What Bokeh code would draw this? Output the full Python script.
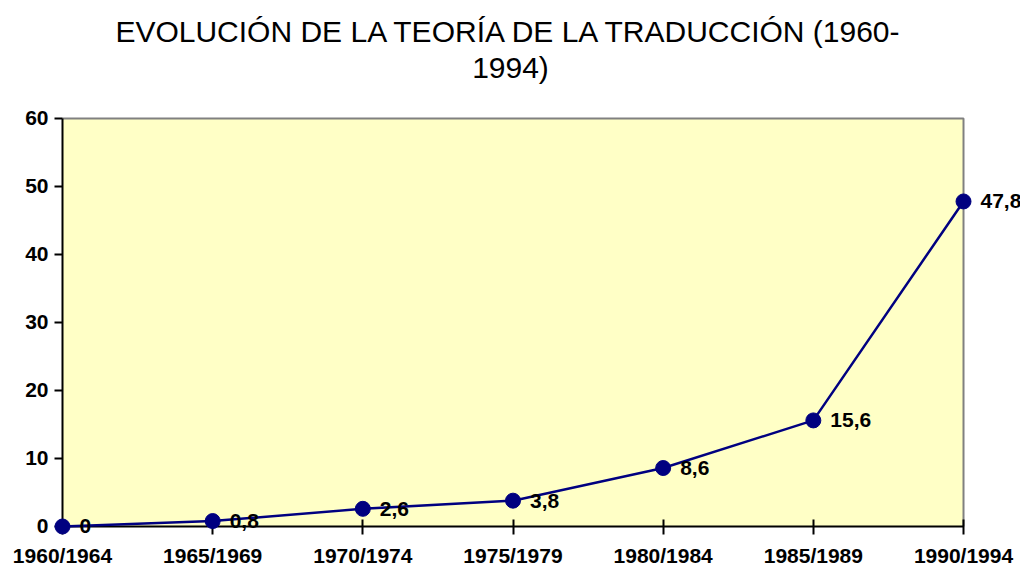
from bokeh.plotting import figure
from bokeh.models import Range1d, FixedTicker, Title
from bokeh.core.properties import value
from bokeh.embed import file_html
from bokeh.resources import INLINE

periods = ["1960/1964", "1965/1969", "1970/1974", "1975/1979",
           "1980/1984", "1985/1989", "1990/1994"]
values = [0, 0.8, 2.6, 3.8, 8.6, 15.6, 47.8]
value_labels = ["0", "0,8", "2,6", "3,8", "8,6", "15,6", "47,8"]
y_ticks = [0, 10, 20, 30, 40, 50, 60]
title_lines = ["EVOLUCIÓN DE LA TEORÍA DE LA TRADUCCIÓN (1960-", "1994)"]

xs = list(range(len(periods)))
xmax = len(periods) - 1
ymax = max(y_ticks)
FONT = "Liberation Sans"

p = figure(width=1020, height=571, output_backend="svg", toolbar_location=None,
           x_range=Range1d(-0.4129, 6.3795), y_range=Range1d(-6.618, 61.47),
           min_border_left=0, min_border_right=0, min_border_top=108,
           min_border_bottom=0)
p.title = None
p.outline_line_color = None
p.background_fill_color = "white"
p.border_fill_color = "white"
p.grid.visible = False

# white (invisible) spacer between plot and title, then the two centred title lines
p.add_layout(Title(text=".", text_font_size="10px", standoff=14, text_color="white"), "above")
p.add_layout(Title(text=title_lines[1], align="center", text_font=FONT, text_font_size="30px",
                   text_font_style="normal", text_color="black", standoff=2), "above")
p.add_layout(Title(text=title_lines[0], align="center", text_font=FONT, text_font_size="30px",
                   text_font_style="normal", text_color="black", standoff=0), "above")

# plot area background and grey frame (top/right)
p.quad(left=0, right=xmax, bottom=0, top=ymax, fill_color="#FFFFC6", line_color=None)
p.line(x=[0, xmax, xmax], y=[ymax, ymax, 0], line_color="#808080", line_width=2)

# axes
p.xaxis.fixed_location = 0
p.xaxis.bounds = (0, xmax)
p.xaxis.ticker = FixedTicker(ticks=xs)
p.xaxis.major_label_overrides = {i: s for i, s in enumerate(periods)}
p.xaxis.major_tick_in = 7
p.xaxis.major_tick_out = 8
p.xaxis.major_label_standoff = 10

p.yaxis.fixed_location = 0
p.yaxis.bounds = (0, ymax)
p.yaxis.ticker = FixedTicker(ticks=y_ticks)
p.yaxis.major_tick_in = 0
p.yaxis.major_tick_out = 8
p.yaxis.major_label_standoff = 6

for ax in (p.xaxis, p.yaxis):
    ax.axis_line_color = "black"
    ax.axis_line_width = 2
    ax.major_tick_line_color = "black"
    ax.major_tick_line_width = 2
    ax.minor_tick_line_color = None
    ax.major_label_text_font = FONT
    ax.major_label_text_font_style = "bold"
    ax.major_label_text_font_size = "21px"
    ax.major_label_text_color = "black"

# series
ln = p.line(x=xs, y=values, line_color="#000080", line_width=2.5)
sc = p.scatter(x=xs, y=values, size=15, fill_color="#000080", line_color="#000080")
tx = p.text(x=xs, y=values, text=value_labels, x_offset=17, text_baseline="middle",
            text_align="left", text_font=value(FONT), text_font_style="bold",
            text_font_size="21px", text_color="black")
for r in (ln, sc, tx):
    r.level = "overlay"

open("out.html", "w").write(file_html(p, INLINE))
